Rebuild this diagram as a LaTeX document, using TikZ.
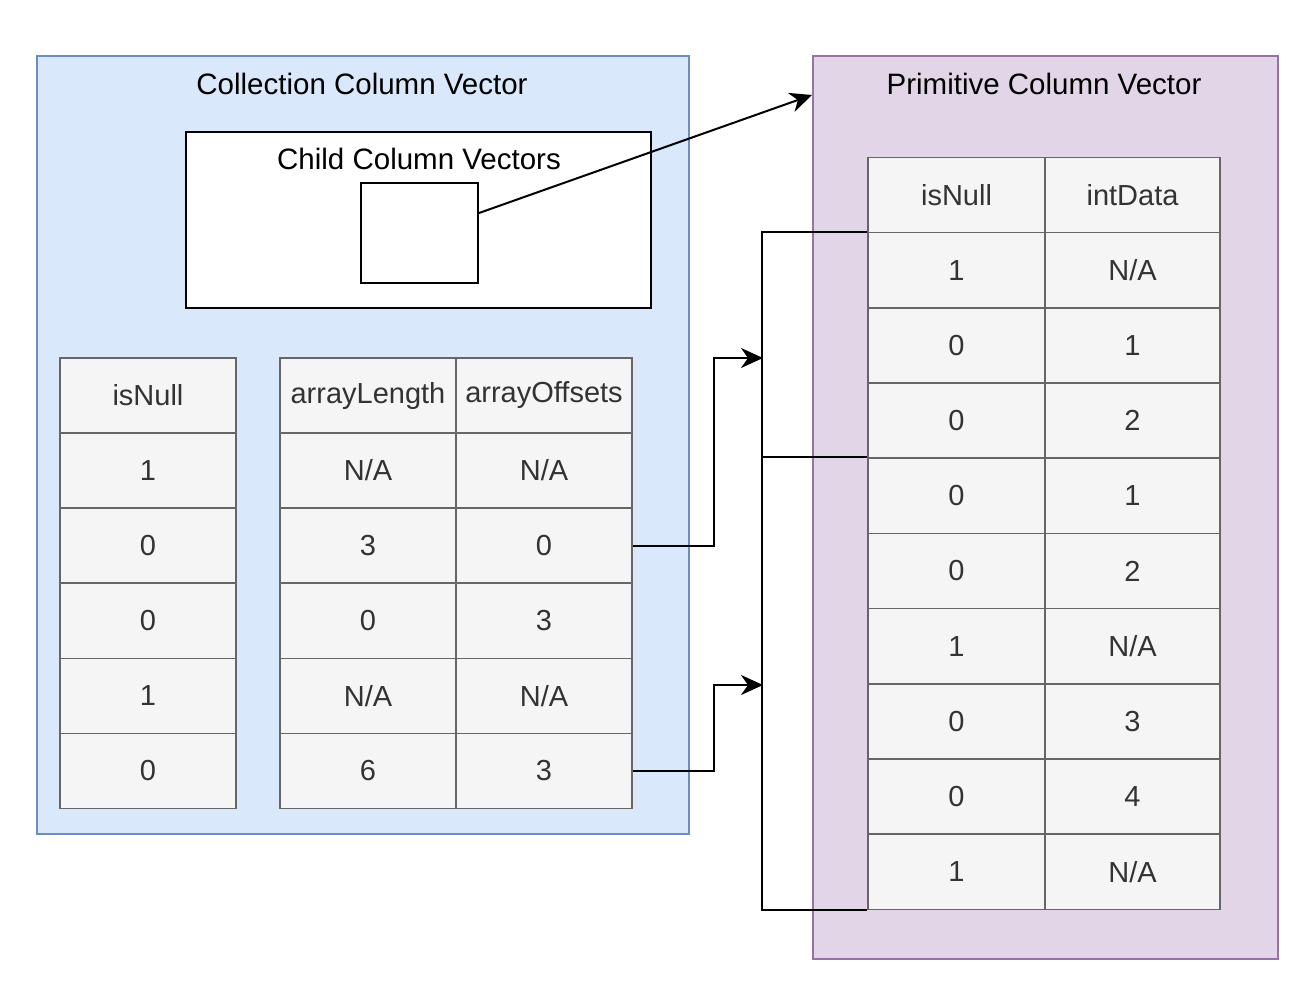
\documentclass[tikz,border=0pt]{standalone}
\usepackage{fontspec}
\setmainfont{Liberation Sans}
\usetikzlibrary{arrows.meta}
\definecolor{bluefill}{HTML}{DAE8FC}
\definecolor{bluedraw}{HTML}{6C8EBF}
\definecolor{purpfill}{HTML}{E1D5E7}
\definecolor{purpdraw}{HTML}{9673A6}
\definecolor{cellfill}{HTML}{F5F5F5}
\definecolor{celldraw}{HTML}{666666}
\definecolor{celltext}{HTML}{333333}
\tikzset{
  container/.style={line width=2pt, anchor=north west, inner sep=0pt},
  cell/.style={draw=celldraw, fill=cellfill, line width=1.6pt, minimum width=176pt, minimum height=75.2pt, inner sep=0pt, text=celltext, font=\fontsize{29}{34}\selectfont},
  title/.style={font=\fontsize{29.5}{34}\selectfont, text=black, inner sep=0pt},
  wbox/.style={draw=black, fill=white, line width=2pt, anchor=north west, inner sep=0pt},
  conn/.style={draw=black, line width=2pt},
  tip/.style={-{Stealth[length=22pt,width=20pt,inset=7pt]}}
}
\begin{document}
\begin{tikzpicture}[x=1pt,y=-1pt]
\useasboundingbox[fill=white] (0,0) rectangle (1311,1005);
% containers
\node[container, draw=bluedraw, fill=bluefill, minimum width=652pt, minimum height=778pt] (coll) at (36,55) {};
\node[container, draw=purpdraw, fill=purpfill, minimum width=465pt, minimum height=903pt] (prim) at (812,55) {};
\node[title] (colltitle) at (362,84) {Collection Column Vector};
\node[title] (primtitle) at (1044,84) {Primitive Column Vector};
% child box
\node[wbox, minimum width=465pt, minimum height=176pt] (child) at (185,131) {};
\node[title] (childtitle) at (419,159) {Child Column Vectors};
\node[wbox, minimum width=117pt, minimum height=100pt] (small) at (360,182) {};
% left tables
\node[cell] (ln0) at (148,395.5) {isNull};
\node[cell] (ml0) at (368,395.5) {arrayLength};
\node[cell] (mo0) at (544,395.5) {arrayOffsets};
\foreach \i/\a/\b/\c in {1/1/{N/A}/{N/A}, 2/0/3/0, 3/0/0/3, 4/1/{N/A}/{N/A}, 5/0/6/3} {
  \node[cell] (ln\i) at (148,395.5+75.1*\i) {\a};
  \node[cell] (ml\i) at (368,395.5+75.1*\i) {\b};
  \node[cell] (mo\i) at (544,395.5+75.1*\i) {\c};
}
% right table
\node[cell, minimum width=177pt] (ri0) at (956.5,195) {isNull};
\node[cell, minimum width=175pt] (rd0) at (1132.5,195) {intData};
\foreach \i/\a/\b in {1/1/{N/A}, 2/0/1, 3/0/2, 4/0/1, 5/0/2, 6/1/{N/A}, 7/0/3, 8/0/4, 9/1/{N/A}} {
  \node[cell, minimum width=177pt] (ri\i) at (956.5,195+75.2*\i) {\a};
  \node[cell, minimum width=175pt] (rd\i) at (1132.5,195+75.2*\i) {\b};
}
% connectors
\coordinate (ptip) at (812,95);
\draw[conn, tip] ([yshift=20pt]small.east) -- (ptip);
\coordinate (armA) at (763,358);
\coordinate (armB) at (763,685);
\draw[conn, tip] (mo2.east) -- ++(81,0) |- (armA);
\draw[conn, tip] (mo5.east) -- ++(81,0) |- (armB);
\draw[conn] (ri1.north west) -- ++(-105,0) |- (ri9.south west);
\draw[conn] (ri4.north west) -- ++(-105,0);
\end{tikzpicture}
\end{document}
